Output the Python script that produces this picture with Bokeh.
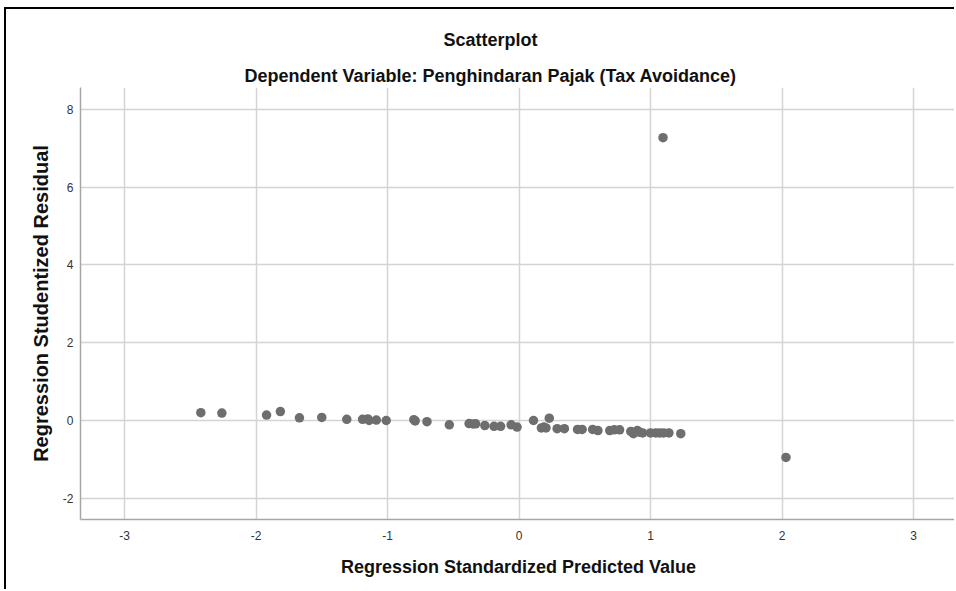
from bokeh.plotting import figure
from bokeh.models import Title, FixedTicker, Range1d
from bokeh.embed import file_html
from bokeh.resources import INLINE

# Data
pred = [-2.42, -2.26, -1.92, -1.815, -1.67, -1.50, -1.31, -1.19, -1.15, -1.14,
        -1.085, -1.01, -0.80, -0.79, -0.70, -0.53, -0.38, -0.35, -0.33, -0.26,
        -0.19, -0.14, -0.06, -0.015, 0.11, 0.17, 0.19, 0.205, 0.23, 0.29,
        0.345, 0.445, 0.48, 0.56, 0.60, 0.69, 0.725, 0.765, 0.85, 0.87,
        0.90, 0.915, 0.94, 1.00, 1.04, 1.07, 1.10, 1.14, 1.23, 1.095, 2.03]
resid = [0.20, 0.19, 0.14, 0.23, 0.07, 0.08, 0.03, 0.03, 0.04, 0.00,
         0.01, 0.00, 0.02, -0.01, -0.03, -0.11, -0.08, -0.09, -0.085, -0.13,
         -0.15, -0.15, -0.11, -0.17, 0.00, -0.19, -0.17, -0.19, 0.06, -0.21,
         -0.21, -0.23, -0.23, -0.23, -0.26, -0.26, -0.24, -0.24, -0.28, -0.34,
         -0.26, -0.30, -0.32, -0.32, -0.32, -0.32, -0.32, -0.32, -0.34, 7.27, -0.95]
x_ticks = [-3, -2, -1, 0, 1, 2, 3]
x_tick_labels = ["-3", "-2", "-1", "0", "1", "2", "3"]
y_ticks = [-2, 0, 2, 4, 6, 8]
y_tick_labels = ["-2", "0", "2", "4", "6", "8"]

FONT = "Liberation Sans"

p = figure(width=950, height=582, output_backend="svg", toolbar_location=None,
           x_range=Range1d(-3.335, 3.327), y_range=Range1d(-2.545, 8.56),
           min_border_left=74, min_border_right=0, min_border_top=78,
           min_border_bottom=72)

p.title = Title(text="Scatterplot", align="left", text_font=FONT,
                text_font_size="18px", text_font_style="bold",
                text_color="#111111", standoff=23, offset=363)
p.add_layout(Title(text="Dependent Variable: Penghindaran Pajak (Tax Avoidance)",
                   align="left", text_font=FONT, text_font_size="18px",
                   text_font_style="bold", text_color="#111111", standoff=4,
                   offset=164),
             "above")

p.scatter(pred, resid, size=9.5, fill_color="#6e6e6e", line_color=None)

p.outline_line_color = None
p.background_fill_color = "white"
p.border_fill_color = "white"

for ax in (p.xaxis[0], p.yaxis[0]):
    ax.major_tick_line_color = None
    ax.minor_tick_line_color = None
    ax.major_tick_out = 0
    ax.major_tick_in = 0
    ax.minor_tick_out = 0
    ax.minor_tick_in = 0
    ax.axis_line_color = "#a6a6a6"
    ax.axis_line_width = 1.5
    ax.major_label_text_font = FONT
    ax.major_label_text_font_size = "12px"
    ax.major_label_text_color = "#333333"
    ax.axis_label_text_font = FONT
    ax.axis_label_text_font_style = "bold"
    ax.axis_label_text_color = "#111111"

p.xaxis.ticker = FixedTicker(ticks=x_ticks)
p.xaxis.major_label_overrides = dict(zip(x_ticks, x_tick_labels))
p.yaxis.ticker = FixedTicker(ticks=y_ticks)
p.yaxis.major_label_overrides = dict(zip(y_ticks, y_tick_labels))

p.xaxis.axis_label = "Regression Standardized Predicted Value"
p.xaxis.axis_label_text_font_size = "18px"
p.xaxis.major_label_standoff = 11
p.xaxis.axis_label_standoff = 14

p.yaxis.axis_label = "Regression Studentized Residual"
p.yaxis.axis_label_text_font_size = "20px"
p.yaxis.major_label_standoff = 7
p.yaxis.axis_label_standoff = 8

p.xgrid.grid_line_color = "#d4d4d4"
p.ygrid.grid_line_color = "#d4d4d4"
p.xgrid.grid_line_width = 1.5
p.ygrid.grid_line_width = 1.5

p.styles = {"border-left": "2px solid black", "border-top": "2px solid black",
            "margin-left": "4px", "margin-top": "7px"}

open("out.html", "w").write(file_html(p, INLINE))
